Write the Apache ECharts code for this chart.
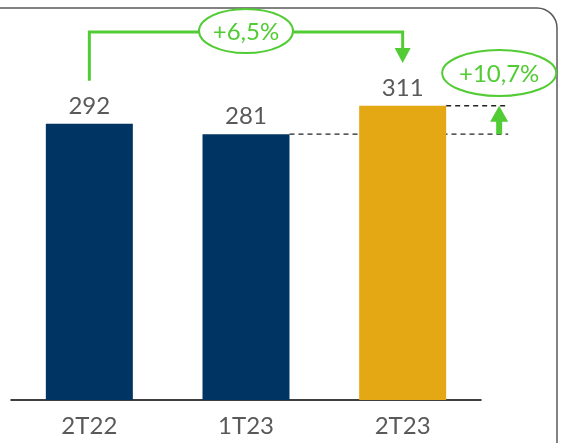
<!DOCTYPE html>
<html>
<head>
<meta charset="utf-8">
<script src="https://cdn.jsdelivr.net/npm/echarts@6/dist/echarts.min.js"></script>
<style>html,body{margin:0;padding:0;background:#fff;}#c{width:562px;height:443px;}</style>
</head>
<body>
<div id="c"></div>
<script>
const categories = ['2T22', '1T23', '2T23'];
const values = [292, 281, 311];
const barColors = ['#003462', '#003462', '#E4A814'];
const growthYoY = '+6,5%';
const growthQoQ = '+10,7%';

const FONT = 'Lato';
const GREEN = '#52CC34';
const TEXT = '#595959';

const chart = echarts.init(document.getElementById('c'), null, { renderer: 'canvas' });
chart.setOption({
  animation: false,
  grid: { left: 11, right: 81, top: 21.6, bottom: 43, containLabel: false },
  xAxis: {
    type: 'category',
    data: categories,
    axisLine: { lineStyle: { color: '#000', width: 1.5 } },
    axisTick: { show: false },
    axisLabel: { color: TEXT, fontFamily: FONT, fontSize: 24, margin: 14 }
  },
  yAxis: { type: 'value', min: 0, max: 400, show: false, splitLine: { show: false } },
  series: [{
    type: 'bar',
    barWidth: 87,
    data: values.map((v, i) => ({ value: v, itemStyle: { color: barColors[i] } })),
    label: { show: true, position: 'top', distance: 6, color: TEXT, fontFamily: FONT, fontSize: 24 }
  }]
});

const px = (i) => chart.convertToPixel({ seriesIndex: 0 }, [i, values[i]]);
const p0 = px(0), p1 = px(1), p2 = px(2);
const half = 43.5;
const yLine = 32;
const arrowX = p2[0] + half + 53;

chart.setOption({
  graphic: [
    { type: 'rect', shape: { x: -20, y: 8, width: 577, height: 480, r: 20 },
      style: { fill: 'none', stroke: '#5a5a5a', lineWidth: 1.5 }, silent: true },
    { type: 'polyline', shape: { points: [[p0[0], p0[1] - 43], [p0[0], yLine], [p2[0], yLine], [p2[0], 50]] },
      style: { stroke: GREEN, lineWidth: 3, fill: 'none' } },
    { type: 'polygon', shape: { points: [[p2[0] - 8, 48], [p2[0] + 8, 48], [p2[0], 63]] },
      style: { fill: GREEN } },
    { type: 'ellipse', shape: { cx: p1[0], cy: 31, rx: 47, ry: 22 },
      style: { fill: '#fff', stroke: GREEN, lineWidth: 2 } },
    { type: 'text', x: p1[0], y: 32,
      style: { text: growthYoY, fill: GREEN, font: '24px ' + FONT, align: 'center', verticalAlign: 'middle' } },
    { type: 'line', shape: { x1: p2[0] + half, y1: p2[1], x2: arrowX + 9, y2: p2[1] },
      style: { stroke: '#222', lineWidth: 1.4, lineDash: [5, 4] } },
    { type: 'line', shape: { x1: p1[0] + half, y1: p1[1], x2: arrowX + 9, y2: p1[1] },
      style: { stroke: '#222', lineWidth: 1.4, lineDash: [5, 4] } },
    { type: 'rect', shape: { x: arrowX - 3, y: p2[1] + 14, width: 6, height: p1[1] - p2[1] - 14 },
      style: { fill: GREEN } },
    { type: 'polygon', shape: { points: [[arrowX - 9, p2[1] + 16], [arrowX + 9, p2[1] + 16], [arrowX, p2[1]]] },
      style: { fill: GREEN } },
    { type: 'ellipse', shape: { cx: arrowX, cy: 73, rx: 57, ry: 23 },
      style: { fill: '#fff', stroke: GREEN, lineWidth: 2 } },
    { type: 'text', x: arrowX, y: 74,
      style: { text: growthQoQ, fill: GREEN, font: '24px ' + FONT, align: 'center', verticalAlign: 'middle' } }
  ]
});
</script>
</body>
</html>
